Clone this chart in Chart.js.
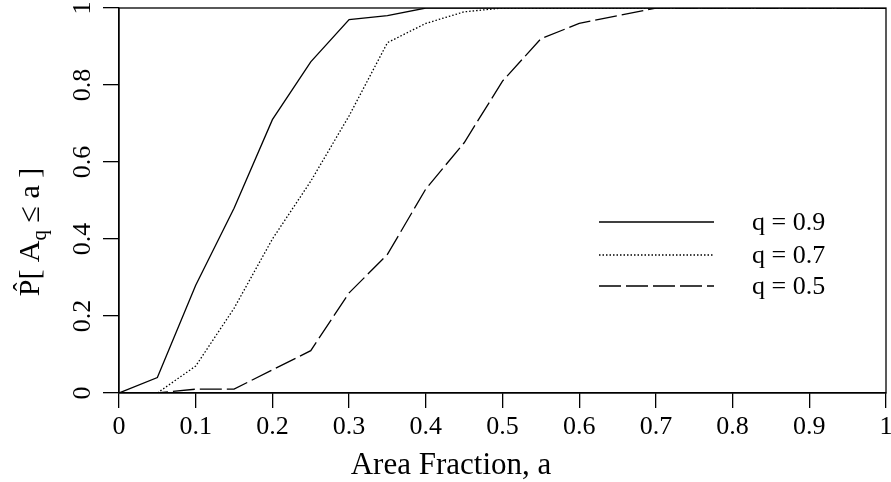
<!DOCTYPE html>
<html>
<head>
<meta charset="utf-8">
<script src="https://cdn.jsdelivr.net/npm/chart.js@4/dist/chart.umd.min.js"></script>
<style>
html,body{margin:0;padding:0;background:#fff;}
#wrap{width:891px;height:482px;}
canvas{display:block;}
</style>
</head>
<body>
<div id="wrap"><canvas id="c" width="891" height="482"></canvas></div>
<script>
// ---- data ----
const areaFraction = [0, 0.05, 0.1, 0.15, 0.2, 0.25, 0.3, 0.35, 0.4, 0.45, 0.5, 0.55, 0.6, 0.65, 0.7, 0.75, 0.8, 0.85, 0.9, 0.95, 1];
const q09 = [0, 0.04, 0.28, 0.48, 0.71, 0.86, 0.97, 0.98, 1, 1, 1, 1, 1, 1, 1, 1, 1, 1, 1, 1, 1];
const q07 = [0, 0, 0.07, 0.22, 0.40, 0.55, 0.72, 0.91, 0.96, 0.99, 1, 1, 1, 1, 1, 1, 1, 1, 1, 1, 1];
const q05 = [0, 0, 0.01, 0.01, 0.06, 0.11, 0.26, 0.36, 0.53, 0.65, 0.81, 0.92, 0.96, 0.98, 1, 1, 1, 1, 1, 1, 1];
const seriesNames = ['q = 0.9', 'q = 0.7', 'q = 0.5'];
const xTickLabels = ['0', '0.1', '0.2', '0.3', '0.4', '0.5', '0.6', '0.7', '0.8', '0.9', '1'];
const yTickLabels = ['0', '0.2', '0.4', '0.6', '0.8', '1'];
const xTitle = 'Area Fraction, a';

// ---- styling ----
const FONT = '"Liberation Serif", "Times New Roman", Times, serif';
const LW = 1.3;
const dashes = [[], [1.5, 2], [22, 5]];
const seriesValues = [q09, q07, q05];

const datasets = seriesValues.map((vals, i) => ({
  label: seriesNames[i],
  data: areaFraction.map((x, j) => ({ x: x, y: vals[j] })),
  borderColor: '#000',
  borderWidth: LW,
  borderDash: dashes[i],
  pointRadius: 0,
  tension: 0,
  fill: false
}));

const customPlugin = {
  id: 'custom',
  afterDraw(chart) {
    const ctx = chart.ctx;
    const ca = chart.chartArea;
    const ys = chart.scales.y;
    ctx.save();
    // box
    ctx.strokeStyle = '#000';
    ctx.lineWidth = LW;
    ctx.setLineDash([]);
    ctx.strokeRect(ca.left, ca.top, ca.right - ca.left, ca.bottom - ca.top);

    ctx.fillStyle = '#000';
    // y tick labels, rotated
    ctx.font = '26px ' + FONT;
    ctx.textAlign = 'center';
    ctx.textBaseline = 'alphabetic';
    yTickLabels.forEach((lab) => {
      const py = ys.getPixelForValue(parseFloat(lab));
      ctx.save();
      ctx.translate(90, py);
      ctx.rotate(-Math.PI / 2);
      ctx.fillText(lab, 0, 0);
      ctx.restore();
    });

    // x title
    ctx.font = '31px ' + FONT;
    ctx.textAlign = 'center';
    ctx.fillText(xTitle, 451, 474);

    // y title: P-hat[ A_q <= a ]
    ctx.save();
    ctx.translate(39, 232);
    ctx.rotate(-Math.PI / 2);
    const big = '30px ' + FONT;
    const small = '21px ' + FONT;
    const parts = [
      { t: 'P', f: big, dy: 0 },
      { t: '[ A', f: big, dy: 0 },
      { t: 'q', f: small, dy: 7 },
      { t: ' \u2264 a ]', f: big, dy: 0 }
    ];
    let total = 0;
    parts.forEach(p => { ctx.font = p.f; p.w = ctx.measureText(p.t).width; total += p.w; });
    let cx = -total / 2;
    ctx.textAlign = 'left';
    parts.forEach((p, k) => {
      ctx.font = p.f;
      ctx.fillText(p.t, cx, p.dy);
      if (k === 0) {
        ctx.font = '26px ' + FONT;
        ctx.textAlign = 'center';
        ctx.fillText('\u02C6', cx + p.w / 2 + 1, -8);
        ctx.textAlign = 'left';
      }
      cx += p.w;
    });
    ctx.restore();

    // legend
    const legY = [222, 255, 286];
    seriesNames.forEach((name, i) => {
      ctx.beginPath();
      ctx.setLineDash(dashes[i]);
      ctx.lineWidth = LW;
      ctx.moveTo(599, legY[i]);
      ctx.lineTo(714, legY[i]);
      ctx.stroke();
      ctx.setLineDash([]);
      ctx.font = '26px ' + FONT;
      ctx.textAlign = 'left';
      ctx.fillText(name, 752, legY[i] + 8);
    });
    ctx.restore();
  }
};

new Chart(document.getElementById('c'), {
  type: 'line',
  data: { datasets: datasets },
  options: {
    responsive: false,
    devicePixelRatio: 1,
    animation: false,
    events: [],
    layout: { padding: { left: 0, right: 5, top: 8, bottom: 0 } },
    plugins: { legend: { display: false }, tooltip: { enabled: false } },
    scales: {
      x: {
        type: 'linear',
        min: 0, max: 1,
        afterFit(s) { s.height = 89; s.paddingRight = 0; s.paddingLeft = 0; },
        grid: { drawOnChartArea: false, drawTicks: true, tickLength: 15, color: '#000', lineWidth: LW },
        border: { display: true, color: '#000', width: LW },
        ticks: {
          stepSize: 0.1,
          autoSkip: false,
          maxRotation: 0,
          color: '#000',
          padding: 4,
          font: { family: FONT, size: 26 },
          callback: (v, i) => xTickLabels[i]
        }
      },
      y: {
        type: 'linear',
        min: 0, max: 1,
        afterFit(s) { s.width = 119; s.paddingTop = 0; s.paddingBottom = 0; },
        grid: { drawOnChartArea: false, drawTicks: true, tickLength: 16, color: '#000', lineWidth: LW },
        border: { display: true, color: '#000', width: LW },
        ticks: { stepSize: 0.2, display: false }
      }
    }
  },
  plugins: [customPlugin]
});
</script>
</body>
</html>
